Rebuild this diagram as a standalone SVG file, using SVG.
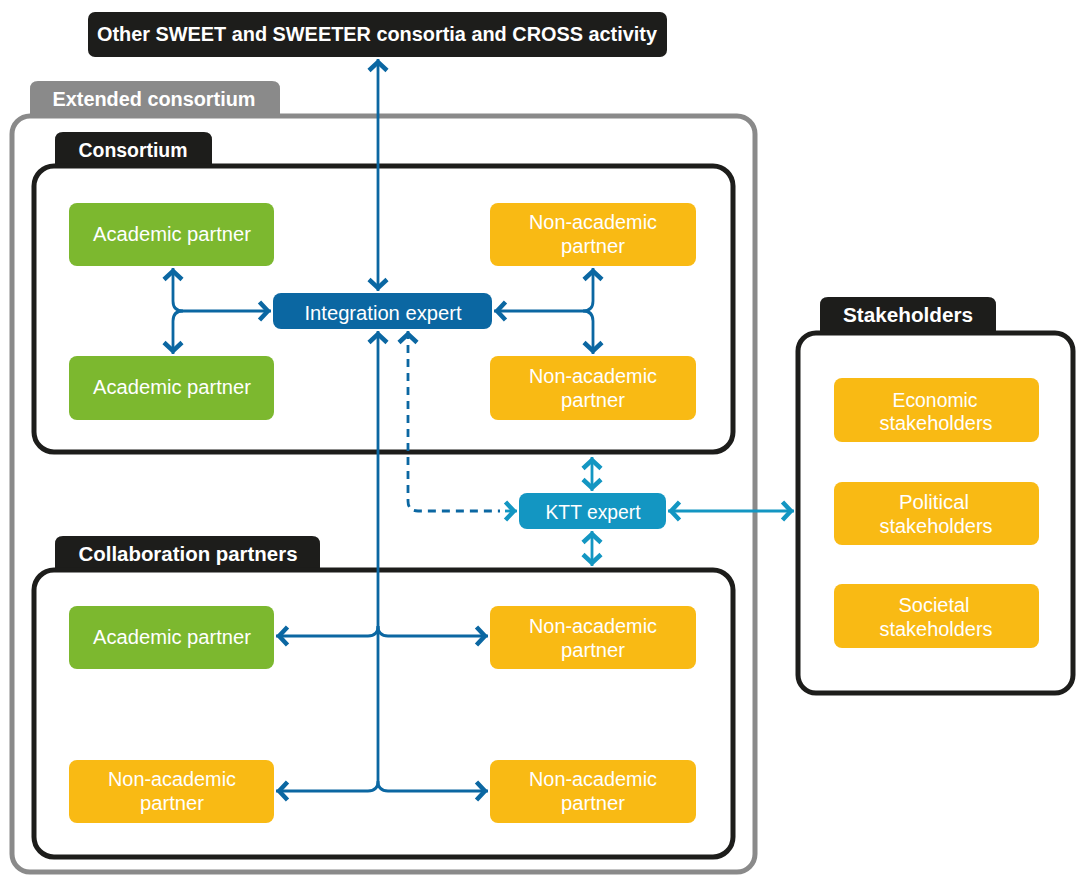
<svg xmlns="http://www.w3.org/2000/svg" width="1076" height="875" viewBox="0 0 1076 875">
<style>
.hd{font-family:"Liberation Sans Narrow","Liberation Sans",sans-serif;font-weight:bold;font-size:20px;fill:#fff;text-anchor:middle}
.lb{font-family:"Liberation Sans Narrow","Liberation Sans",sans-serif;font-size:20px;fill:#fff;text-anchor:middle}
.box{fill:#fff;stroke:#1d1d1b;stroke-width:5}
.tab{fill:#1d1d1b}
.green{fill:#7cb82f}
.orange{fill:#f9ba14}
.cn{fill:none;stroke:#0b67a2;stroke-width:2.8}
.cl{fill:none;stroke:#1396c2;stroke-width:2.8}
</style>
<defs>
<marker id="ad" markerUnits="userSpaceOnUse" markerWidth="26" markerHeight="26" viewBox="-16 -13 20 26" refX="0" refY="0" orient="auto-start-reverse">
<path d="M-11.5,-9 L-3.1,0 L-11.5,9" fill="none" stroke="#0b67a2" stroke-width="4.5"/>
</marker>
<marker id="al" markerUnits="userSpaceOnUse" markerWidth="26" markerHeight="26" viewBox="-16 -13 20 26" refX="0" refY="0" orient="auto-start-reverse">
<path d="M-11.5,-9 L-3.1,0 L-11.5,9" fill="none" stroke="#1396c2" stroke-width="4.5"/>
</marker>
</defs>

<g id="other-consortia">
<rect x="88" y="12" width="579" height="45" rx="7" fill="#1d1d1b"/>
<text class="hd" x="377" y="41" textLength="560" lengthAdjust="spacingAndGlyphs">Other SWEET and SWEETER consortia and CROSS activity</text>
</g>

<g id="extended-consortium">
<path d="M30,117 V89 Q30,81 38,81 H272 Q280,81 280,89 V117 Z" fill="#8a8a8a"/>
<rect x="12" y="116" width="743" height="756" rx="18" fill="#fff" stroke="#8a8a8a" stroke-width="5"/>
<text class="hd" x="154" y="106" textLength="203" lengthAdjust="spacingAndGlyphs">Extended consortium</text>
</g>

<g id="consortium">
<path class="tab" d="M55,167 V140 Q55,132 63,132 H204 Q212,132 212,140 V167 Z"/>
<rect class="box" x="34" y="166" width="699" height="286" rx="20"/>
<text class="hd" x="133" y="157" textLength="109" lengthAdjust="spacingAndGlyphs">Consortium</text>
</g>

<g id="collaboration-partners">
<path class="tab" d="M55,571 V544 Q55,536 63,536 H312 Q320,536 320,544 V571 Z"/>
<rect class="box" x="34" y="570" width="699" height="287" rx="20"/>
<text class="hd" x="188" y="561" textLength="219" lengthAdjust="spacingAndGlyphs">Collaboration partners</text>
</g>

<g id="stakeholders">
<path class="tab" d="M820,334 V305 Q820,297 828,297 H988 Q996,297 996,305 V334 Z"/>
<rect class="box" x="798" y="333" width="275" height="360" rx="18"/>
<text class="hd" x="908" y="322" textLength="130" lengthAdjust="spacingAndGlyphs">Stakeholders</text>
</g>

<g id="academic-1">
<rect class="green" x="69" y="203" width="205" height="63" rx="8"/>
<text class="lb" x="172" y="241" textLength="158" lengthAdjust="spacingAndGlyphs">Academic partner</text>
</g>
<g id="academic-2">
<rect class="green" x="69" y="356" width="205" height="64" rx="8"/>
<text class="lb" x="172" y="394" textLength="158" lengthAdjust="spacingAndGlyphs">Academic partner</text>
</g>
<g id="nonacademic-1">
<rect class="orange" x="490" y="203" width="206" height="63" rx="8"/>
<text class="lb" x="593" y="229" textLength="128" lengthAdjust="spacingAndGlyphs">Non-academic</text>
<text class="lb" x="593" y="253" textLength="64" lengthAdjust="spacingAndGlyphs">partner</text>
</g>
<g id="nonacademic-2">
<rect class="orange" x="490" y="356" width="206" height="64" rx="8"/>
<text class="lb" x="593" y="383" textLength="128" lengthAdjust="spacingAndGlyphs">Non-academic</text>
<text class="lb" x="593" y="407" textLength="64" lengthAdjust="spacingAndGlyphs">partner</text>
</g>
<g id="integration-expert">
<rect x="273" y="293" width="219" height="36" rx="8" fill="#0b67a2"/>
<text class="lb" x="383" y="320" textLength="157" lengthAdjust="spacingAndGlyphs">Integration expert</text>
</g>
<g id="ktt-expert">
<rect x="519" y="493" width="147" height="36" rx="8" fill="#1396c2"/>
<text class="lb" x="593" y="519" textLength="95" lengthAdjust="spacingAndGlyphs">KTT expert</text>
</g>

<g id="collab-academic">
<rect class="green" x="69" y="606" width="205" height="63" rx="8"/>
<text class="lb" x="172" y="644" textLength="158" lengthAdjust="spacingAndGlyphs">Academic partner</text>
</g>
<g id="collab-nonacademic-1">
<rect class="orange" x="490" y="606" width="206" height="63" rx="8"/>
<text class="lb" x="593" y="633" textLength="128" lengthAdjust="spacingAndGlyphs">Non-academic</text>
<text class="lb" x="593" y="657" textLength="64" lengthAdjust="spacingAndGlyphs">partner</text>
</g>
<g id="collab-nonacademic-2">
<rect class="orange" x="69" y="760" width="205" height="63" rx="8"/>
<text class="lb" x="172" y="786" textLength="128" lengthAdjust="spacingAndGlyphs">Non-academic</text>
<text class="lb" x="172" y="810" textLength="64" lengthAdjust="spacingAndGlyphs">partner</text>
</g>
<g id="collab-nonacademic-3">
<rect class="orange" x="490" y="760" width="206" height="63" rx="8"/>
<text class="lb" x="593" y="786" textLength="128" lengthAdjust="spacingAndGlyphs">Non-academic</text>
<text class="lb" x="593" y="810" textLength="64" lengthAdjust="spacingAndGlyphs">partner</text>
</g>

<g id="economic">
<rect class="orange" x="834" y="378" width="205" height="64" rx="8"/>
<text class="lb" x="935" y="407" textLength="85" lengthAdjust="spacingAndGlyphs">Economic</text>
<text class="lb" x="936" y="430" textLength="113" lengthAdjust="spacingAndGlyphs">stakeholders</text>
</g>
<g id="political">
<rect class="orange" x="834" y="482" width="205" height="63" rx="8"/>
<text class="lb" x="934" y="509" textLength="70" lengthAdjust="spacingAndGlyphs">Political</text>
<text class="lb" x="936" y="533" textLength="113" lengthAdjust="spacingAndGlyphs">stakeholders</text>
</g>
<g id="societal">
<rect class="orange" x="834" y="584" width="205" height="64" rx="8"/>
<text class="lb" x="934" y="612" textLength="71" lengthAdjust="spacingAndGlyphs">Societal</text>
<text class="lb" x="936" y="636" textLength="113" lengthAdjust="spacingAndGlyphs">stakeholders</text>
</g>

<g id="connectors">
<path class="cn" d="M378,59 V291" marker-start="url(#ad)" marker-end="url(#ad)"/>
<path class="cn" d="M173,268 V301 Q173,311 183,311 H271" marker-start="url(#ad)" marker-end="url(#ad)"/>
<path class="cn" d="M173,354 V321 Q173,311 183,311" marker-start="url(#ad)"/>
<path class="cn" d="M593,268 V301 Q593,311 583,311 H494" marker-start="url(#ad)" marker-end="url(#ad)"/>
<path class="cn" d="M593,354 V321 Q593,311 583,311" marker-start="url(#ad)"/>
<path class="cn" d="M378,331 V781 Q378,791 368,791 H276" marker-start="url(#ad)" marker-end="url(#ad)"/>
<path class="cn" d="M378,781 Q378,791 388,791 H488" marker-end="url(#ad)"/>
<path class="cn" d="M378,626 Q378,636 368,636 H276" marker-end="url(#ad)"/>
<path class="cn" d="M378,626 Q378,636 388,636 H488" marker-end="url(#ad)"/>
<path class="cn" d="M408,331 V501 Q408,511 418,511 H500" stroke-dasharray="8 6" marker-start="url(#ad)"/>
<path class="cl" d="M505,511 H517" marker-end="url(#al)"/>
<path class="cl" d="M592,457 V491" marker-start="url(#al)" marker-end="url(#al)"/>
<path class="cl" d="M592,531 V566" marker-start="url(#al)" marker-end="url(#al)"/>
<path class="cl" d="M668,511 H794" marker-start="url(#al)" marker-end="url(#al)"/>
</g>
</svg>
